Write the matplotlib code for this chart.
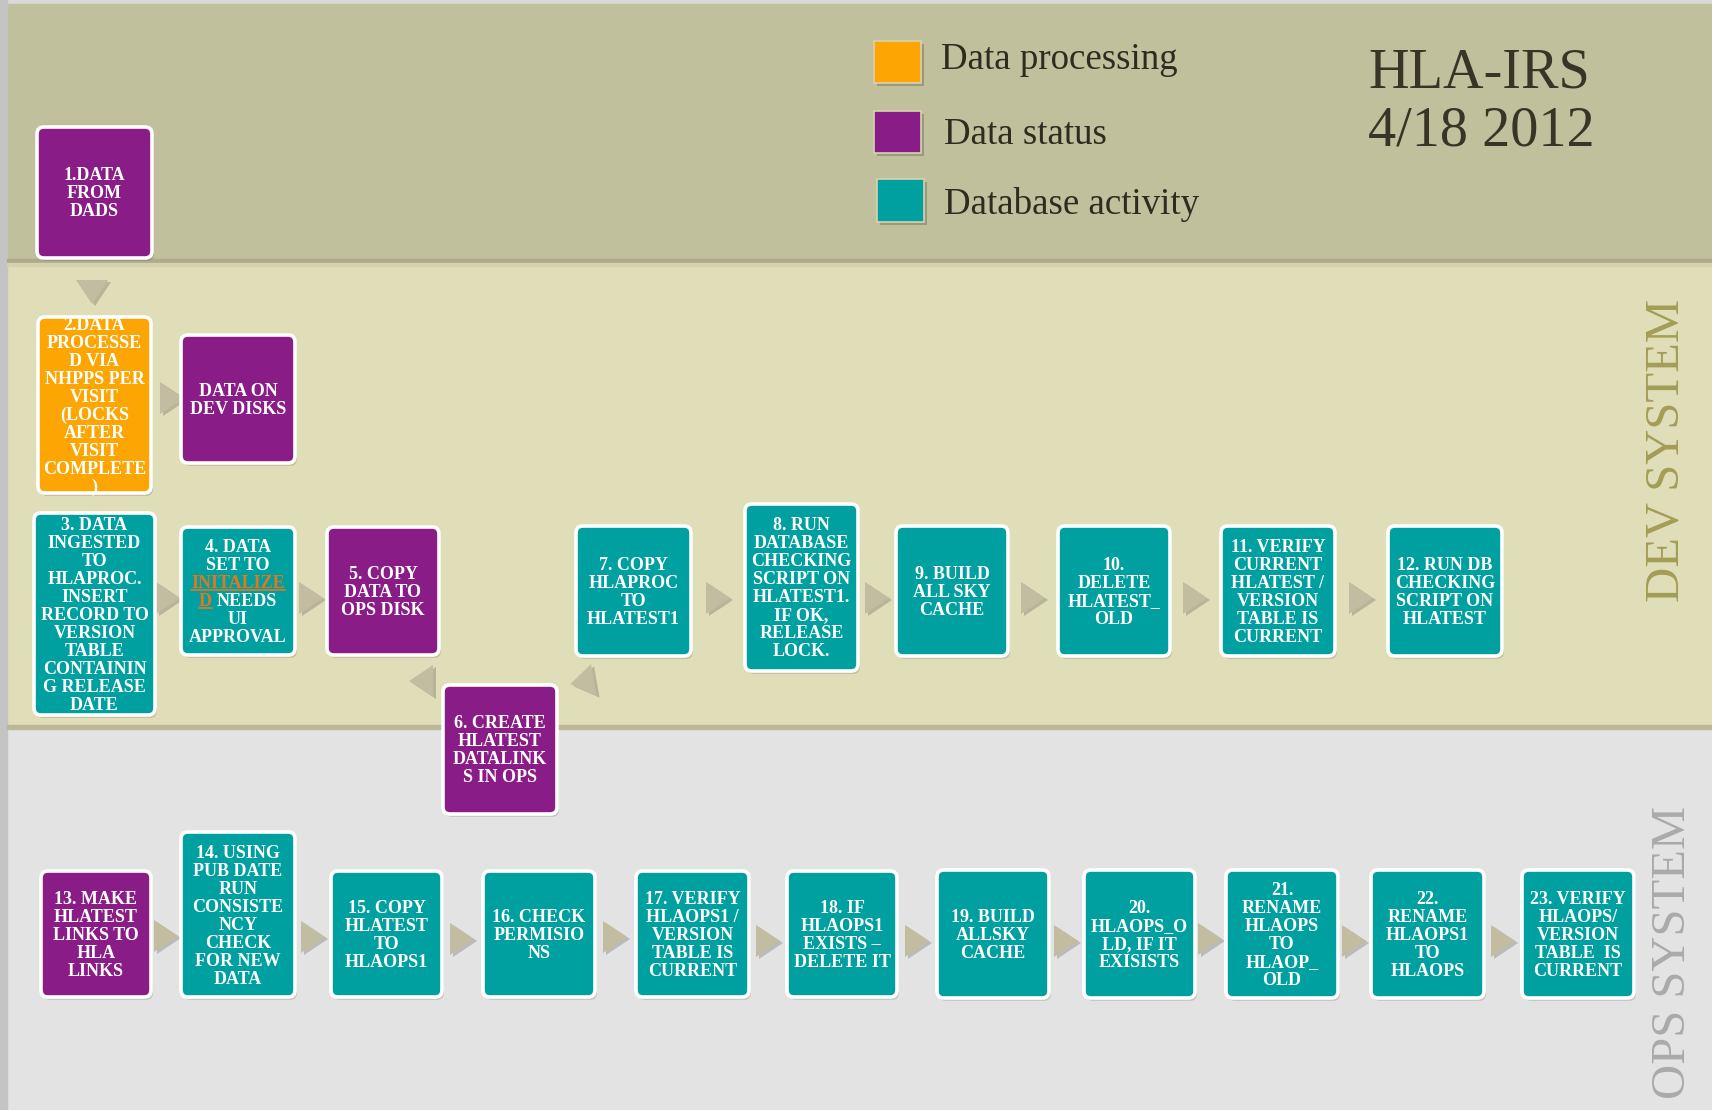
import matplotlib
matplotlib.use("Agg")
import matplotlib.pyplot as plt
from matplotlib.patches import FancyBboxPatch, Rectangle, Polygon
import numpy as np

# ---------------- data ----------------
step_labels = [
    "1.DATA\nFROM\nDADS",
    "2.DATA\nPROCESSE\nD VIA\nNHPPS PER\nVISIT\n(LOCKS\nAFTER\nVISIT\nCOMPLETE\n)",
    "DATA ON\nDEV DISKS",
    "3. DATA\nINGESTED\nTO\nHLAPROC.\nINSERT\nRECORD TO\nVERSION\nTABLE\nCONTAININ\nG RELEASE\nDATE",
    "4. DATA\nSET TO\nINITALIZE\nD NEEDS\nUI\nAPPROVAL",
    "5. COPY\nDATA TO\nOPS DISK",
    "6. CREATE\nHLATEST\nDATALINK\nS IN OPS",
    "7. COPY\nHLAPROC\nTO\nHLATEST1",
    "8. RUN\nDATABASE\nCHECKING\nSCRIPT ON\nHLATEST1.\nIF OK,\nRELEASE\nLOCK.",
    "9. BUILD\nALL SKY\nCACHE",
    "10.\nDELETE\nHLATEST_\nOLD",
    "11. VERIFY\nCURRENT\nHLATEST /\nVERSION\nTABLE IS\nCURRENT",
    "12. RUN DB\nCHECKING\nSCRIPT ON\nHLATEST",
    "13. MAKE\nHLATEST\nLINKS TO\nHLA\nLINKS",
    "14. USING\nPUB DATE\nRUN\nCONSISTE\nNCY\nCHECK\nFOR NEW\nDATA",
    "15. COPY\nHLATEST\nTO\nHLAOPS1",
    "16. CHECK\nPERMISIO\nNS",
    "17. VERIFY\nHLAOPS1 /\nVERSION\nTABLE IS\nCURRENT",
    "18. IF\nHLAOPS1\nEXISTS \u2013\nDELETE IT",
    "19. BUILD\nALLSKY\nCACHE",
    "20.\nHLAOPS_O\nLD, IF IT\nEXISISTS",
    "21.\nRENAME\nHLAOPS\nTO\nHLAOP_\nOLD",
    "22.\nRENAME\nHLAOPS1\nTO\nHLAOPS",
    "23. VERIFY\nHLAOPS/\nVERSION\nTABLE  IS\nCURRENT",
]
step_kinds = [
    "status", "processing", "status", "db", "db", "status", "status",
    "db", "db", "db", "db", "db", "db",
    "status", "db", "db", "db", "db", "db", "db", "db", "db", "db", "db",
]
legend_labels = ["Data processing", "Data status", "Database activity"]
legend_kinds = ["processing", "status", "db"]
title_lines = ["HLA-IRS", "4/18 2012"]
lane_labels = ["DEV SYSTEM", "OPS SYSTEM"]
highlight_lines = {4: {"INITALIZE": "INITALIZE", "D NEEDS": "D"}}

# ---------------- layout & style ----------------
W, H = 1712, 1110
kind_colors = {"processing": "#FDA502", "status": "#8A1C87", "db": "#00A0A1"}

box_extents = [
    (37, 127, 152, 258), (38, 317, 151, 493), (181, 335, 295, 463),
    (34, 513, 155, 715), (181, 527, 295, 655), (327, 527, 439, 655),
    (443, 685, 557, 814), (576, 526, 691, 656), (745, 504, 858, 671),
    (896, 526, 1008, 656), (1058, 526, 1170, 656), (1221, 526, 1335, 656),
    (1388, 526, 1502, 656),
    (41, 871, 151, 997), (181, 832, 295, 997), (331, 871, 442, 997),
    (483, 871, 595, 997), (636, 871, 749, 997), (787, 871, 897, 997),
    (937, 870, 1049, 998), (1084, 870, 1195, 998), (1226, 870, 1338, 998),
    (1371, 870, 1484, 998), (1522, 870, 1634, 998),
]
# arrows: (cx, cy, direction, rotation)
arrows = [
    (92, 292, "down", 0), (172, 398, "right", 0),
    (168, 598, "right", 0), (311, 598, "right", 0),
    (421, 681, "left", 0), (582, 682, "left", -10),
    (718, 598, "right", 0), (877, 598, "right", 0), (1033, 598, "right", 0),
    (1195, 598, "right", 0), (1361, 598, "right", 0),
    (166, 936, "right", 0), (313, 937, "right", 0), (462, 939, "right", 0),
    (615, 937, "right", 0), (768, 941, "right", 0), (917, 941, "right", 0),
    (1066, 941, "right", 0), (1210, 939, "right", 0), (1354, 941, "right", 0),
    (1503, 941, "right", 0),
]
legend_boxes = [(874, 41, 921, 83), (874, 111, 921, 153), (877, 179, 924, 222)]
legend_text_pos = [(941, 69), (944, 144), (944, 214)]

SERIF = ["Liberation Serif", "DejaVu Serif"]
BOX_FS = 13
PITCH = 18.0
CAP = 12.0

fig = plt.figure(figsize=(W / 100, H / 100), dpi=100)
ax = fig.add_axes([0, 0, 1, 1])
ax.set_xlim(0, W)
ax.set_ylim(H, 0)
ax.axis("off")
renderer = fig.canvas.get_renderer()

# panels
ax.add_patch(Rectangle((0, 0), W, H, color="#D9D9D9", zorder=0))
ax.add_patch(Rectangle((7, 4), W, 259, color="#C0C09C", zorder=1))
ax.add_patch(Rectangle((7, 263), W, 465, color="#E0DDB9", zorder=1))
ax.add_patch(Rectangle((7, 728), W, H - 728, color="#E3E3E3", zorder=1))
ax.add_patch(Rectangle((7, 259), W, 4, color="#AEAA8D", zorder=1.5))
ax.add_patch(Rectangle((7, 263), W, 3, color="#D4D1AF", zorder=1.5))
ax.add_patch(Rectangle((7, 725), W, 4, color="#BBB89A", zorder=1.5))
ax.add_patch(Rectangle((0, 0), 7, H, color="#C4C4C4", zorder=1.2))


def tri(cx, cy, direction, rot):
    w, h = 24, 32
    if direction == "right":
        pts = [(-w / 2, -h / 2), (w / 2, 0), (-w / 2, h / 2)]
    elif direction == "left":
        pts = [(w / 2, -h / 2), (-w / 2, 0), (w / 2, h / 2)]
    else:
        pts = [(-h / 2, -w / 2), (h / 2, -w / 2), (0, w / 2)]
    a = np.deg2rad(rot)
    c, s = np.cos(a), np.sin(a)
    return [(cx + x * c - y * s, cy + x * s + y * c) for x, y in pts]


for cx, cy, d, r in arrows:
    sh = [(x + 3, y + 2) for x, y in tri(cx, cy, d, r)]
    ax.add_patch(Polygon(sh, closed=True, color="#000000", alpha=0.18, lw=0, zorder=2))
    ax.add_patch(Polygon(tri(cx, cy, d, r), closed=True, color="#C2BDA1", lw=0, zorder=2.1))

# legend
for (x0, y0, x1, y1), kind, lab, (tx, ty) in zip(legend_boxes, legend_kinds,
                                                 legend_labels, legend_text_pos):
    ax.add_patch(Rectangle((x0 + 3, y0 + 3), x1 - x0, y1 - y0, color="#000000",
                           alpha=0.2, lw=0, zorder=2))
    ax.add_patch(Rectangle((x0, y0), x1 - x0, y1 - y0, facecolor=kind_colors[kind],
                           edgecolor="#D8D2B0", lw=1.2, zorder=3))
    ax.text(tx, ty, lab, family=SERIF, fontsize=26.6, color="#2F2B1F",
            ha="left", va="baseline", zorder=4)

for line, yb in zip(title_lines, [87, 145]):
    ax.text(1368, yb, line, family=SERIF, fontsize=40.5, color="#3A3427",
            ha="left", va="baseline", zorder=4)

ax.text(1667, 451, lane_labels[0], family=SERIF, fontsize=35, color="#A39D56",
        rotation=90, ha="center", va="center", zorder=4)
ax.text(1673, 952, lane_labels[1], family=SERIF, fontsize=35, color="#AAAAAA",
        rotation=90, ha="center", va="center", zorder=4)


def data_width(t):
    bb = t.get_window_extent(renderer=renderer)
    inv = ax.transData.inverted()
    (xa, _), (xb, _) = inv.transform([(bb.x0, bb.y0), (bb.x1, bb.y0)])
    return xa, xb


for idx, (lab, kind, (x0, y0, x1, y1)) in enumerate(zip(step_labels, step_kinds, box_extents)):
    ax.add_patch(FancyBboxPatch((x0 + 2, y0 + 3), x1 - x0, y1 - y0,
                                boxstyle="round,pad=0,rounding_size=7",
                                facecolor="#000000", edgecolor="none", alpha=0.12, zorder=3))
    patch = FancyBboxPatch((x0, y0), x1 - x0, y1 - y0,
                           boxstyle="round,pad=0,rounding_size=7",
                           facecolor=kind_colors[kind], edgecolor="white",
                           lw=2.6, zorder=4)
    ax.add_patch(patch)
    cx, cy = (x0 + x1) / 2, (y0 + y1) / 2
    lines = lab.split("\n")
    n = len(lines)
    hl = highlight_lines.get(idx, {})
    for i, ln in enumerate(lines):
        yb = cy + (i - (n - 1) / 2) * PITCH + CAP / 2
        kw = dict(family=SERIF, fontsize=BOX_FS, fontweight="bold",
                  va="baseline", zorder=5)
        if ln in hl:
            part = hl[ln]
            full = ax.text(cx, yb, ln, ha="center", color="white", **kw)
            xa, xb = data_width(full)
            if part == ln:
                full.set_color("#E8741C")
                ax.plot([xa, xb], [yb + 2, yb + 2], color="#E8741C", lw=1.2, zorder=5)
            else:
                full.remove()
                t1 = ax.text(xa, yb, part, ha="left", color="#E8741C", **kw)
                ax.text(xb, yb, ln[len(part):].strip(), ha="right", color="white", **kw)
                pa, pb = data_width(t1)
                ax.plot([pa, pb], [yb + 2, yb + 2], color="#E8741C", lw=1.2, zorder=5)
        else:
            t = ax.text(cx, yb, ln, ha="center", color="white", **kw)
            if kind == "processing":
                t.set_clip_path(patch)

fig.savefig("out.png", dpi=100)
